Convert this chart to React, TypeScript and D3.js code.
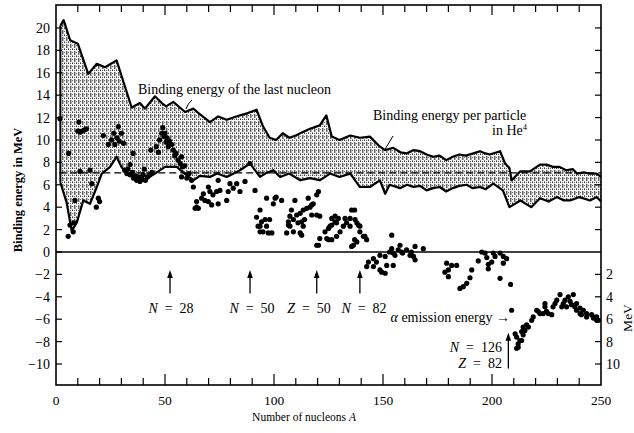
import React from "react";
import * as d3 from "d3";

// Upper envelope: binding energy of the last nucleon (max), [A, MeV]
const upperEnvelope: [number, number][] = [
  [2, 20.2], [3.5, 20.7], [6.5, 18.9], [10, 18.6], [14.8, 15.9], [18.7, 16.8], [22.5, 16.5],
  [27.8, 17.1], [34.7, 12.9], [38.5, 13.3], [40.8, 12.8], [45.4, 13.9], [48.5, 13.3], [50.5, 13.0],
  [53.8, 13.4], [59.2, 12.5], [63, 12.8], [66, 12.3], [70.6, 11.6], [74.4, 12.1], [78.3, 11.8],
  [84.4, 12.2], [88, 12.4], [92, 12.7], [95, 11.2], [98, 10.2], [101, 10.0], [104, 10.6], [107, 10.2],
  [110, 10.4], [113, 10.7], [116.5, 11.0], [121, 11.3], [124, 12.2], [126.5, 10.3], [130, 10.0],
  [135, 10.4], [139.4, 10.2], [144, 10.3], [148.6, 9.4], [151, 9.1], [154.7, 9.3], [158, 8.9],
  [160.8, 8.8], [164, 9.1], [167, 9.0], [170, 8.7], [173, 8.5], [176, 8.6], [179, 8.2], [182, 8.5],
  [185, 8.7], [188, 8.6], [191.4, 8.8], [194.5, 9.0], [197, 8.8], [199, 8.7], [203.7, 9.0],
  [206, 7.9], [208, 7.5], [209, 6.4], [213, 7.2], [217.4, 7.2], [222, 7.8], [225, 7.8], [228, 7.6],
  [231, 7.6], [234, 7.3], [237, 7.4], [239, 7.0], [242, 7.1], [245, 7.0], [248, 7.0], [250, 6.7],
];

// Lower envelope: binding energy of the last nucleon (min), [A, MeV]
const lowerEnvelope: [number, number][] = [
  [2, 6.2], [4.9, 4.4], [7.2, 1.9], [9.5, 2.6], [12.5, 4.6], [15.6, 4.3], [18.7, 5.8], [21, 7.0],
  [24.8, 7.6], [27.8, 8.5], [30, 7.6], [32.4, 7.0], [36, 6.8], [39, 6.3], [42, 6.6], [45.4, 7.0],
  [50, 7.6], [55.4, 7.6], [59, 7.0], [63, 6.4], [66, 6.8], [70.6, 6.7], [74, 7.0], [78.3, 6.7],
  [84.4, 7.3], [89, 7.9], [93.6, 6.7], [96, 7.0], [99.7, 7.3], [102.8, 6.7], [107, 7.0], [112, 6.4],
  [116.5, 6.6], [121, 6.4], [125.7, 7.0], [130, 6.7], [135, 7.0], [139.4, 5.8], [144, 5.8],
  [148.6, 6.4], [151, 5.2], [153, 6.0], [157.8, 5.7], [161, 6.0], [164, 5.8], [167, 5.9], [170, 5.5],
  [173, 5.7], [176, 5.8], [179, 5.4], [182, 5.7], [185, 5.9], [188.4, 6.0], [191, 5.7], [194.5, 5.8],
  [197, 5.6], [200.6, 6.1], [205, 5.5], [208, 4.0], [213, 4.6], [218, 4.0], [222, 4.8], [226, 4.5],
  [229.7, 4.9], [233, 4.6], [235.8, 4.6], [240, 4.9], [245, 4.6], [248, 4.9], [250, 4.5],
];

// Scatter points: alpha binding / emission energy, [A, MeV]
const alphaPoints: [number, number][] = [
  [1.8, 11.9], [5.8, 8.8], [10.5, 11.6], [10, 10.8], [11, 10.7], [12, 10.8], [13, 10.9], [14, 11.0],
  [11, 7.2], [15.6, 7.3], [16.4, 6.1], [19.4, 4.8], [18.5, 4.0], [20, 4.5], [6.4, 2.4], [5.6, 1.4],
  [7.9, 1.8], [8.2, 2.6], [8.7, 4.6],
  [21.7, 10.4], [25.5, 10.0], [26.5, 10.6], [27, 9.6], [28, 10.2], [28.6, 11.2], [29, 9.9],
  [30, 10.6], [31, 9.7], [24, 9.6],
  [31.5, 7.3], [32.5, 7.0], [33, 7.4], [34, 6.9], [35, 7.1], [35.5, 6.6], [36.5, 6.8], [37, 6.4],
  [38, 6.7], [38.5, 6.3], [39.5, 6.5], [40, 6.9], [41, 6.4], [42, 6.7], [43, 6.9], [44, 7.1],
  [35.4, 8.8], [43.5, 9.1], [34, 7.8], [40.5, 7.4],
  [46, 9.4], [47, 8.9], [47.5, 10.0], [48.5, 10.6], [49, 11.1], [49.5, 10.3], [50, 10.6], [50.5, 9.8],
  [51, 10.2], [51.5, 9.4], [52, 9.9], [53, 9.6], [53.8, 9.1], [54.5, 8.6], [55, 8.8], [56, 8.2],
  [57, 7.9], [57.6, 8.5], [58, 7.6], [59, 7.7], [57.6, 6.7], [60, 6.6], [61, 7.0], [62.2, 6.4],
  [63, 5.8], [64.5, 4.5], [65.3, 3.9],
  [66.8, 4.8], [67.6, 5.2], [68.3, 4.6], [69.9, 5.8], [69.9, 4.5], [70.6, 5.4], [71.4, 4.2],
  [72, 5.1], [73.7, 5.4], [74.4, 6.4], [74.4, 4.3], [75.2, 5.5], [78.3, 4.6], [79, 5.4], [79.8, 6.1],
  [81.3, 5.7], [82.9, 6.1], [84.4, 5.4], [86.7, 6.3], [89, 7.9], [91.3, 5.5], [64.5, 4.0], [63.8, 3.9],
  [93.6, 3.75], [92, 3.1], [94.3, 2.7], [93.6, 2.3], [95.9, 2.9], [96.6, 2.3], [95, 1.8], [97.4, 1.7],
  [98, 2.9], [99, 1.7], [96.6, 4.8], [99.7, 4.3], [100.5, 4.8], [101, 4.9], [103.5, 4.6], [92.7, 2.3],
  [93.6, 1.8],
  [105.8, 1.7], [106.6, 2.4], [106.6, 2.7], [107.3, 3.2], [107.3, 2.3], [108, 3.75], [108.9, 2.9],
  [108.9, 1.8], [109.6, 4.6], [110.4, 3.3], [111, 2.6], [112, 3.45], [112, 1.7], [112.7, 2.7],
  [112.7, 1.5], [113.4, 3.75], [113.4, 2.3], [114, 2.9], [115, 3.9], [115.7, 4.8], [116.5, 4.0],
  [117.3, 3.3], [117.3, 4.2], [118, 4.3], [119.6, 3.3], [119.6, 5.1], [120.4, 5.4], [121, 3.2],
  [119.6, 0.6], [120.4, 0.6], [121, 1.2], [123.4, 1.8], [124.2, 1.2], [125, 2.1], [125, 1.1],
  [125.7, 2.3], [126.5, 2.4], [126.5, 1.1], [126.5, 3.0], [128, 2.7], [128, 3.2], [128.7, 1.4],
  [128.7, 2.6], [129.5, 3.0], [130.3, 1.8], [131.8, 2.3], [132.6, 3.0], [133.3, 2.6], [134.9, 3.0],
  [134.9, 2.3], [135.6, 3.75], [135.6, 0.5], [136.4, 0.6], [137, 3.75], [137.2, 2.9], [137, 1.1],
  [138, 0.9], [138, 2.6], [138.7, 2.4], [139.4, 1.8], [139.4, 2.3], [141, 1.4], [141.7, 1.4], [142.5, 1.1],
  [142.5, -1.3], [143.3, -0.9], [145.6, -0.6], [145.6, -1.3], [147, -0.9], [148.6, -0.3], [148.6, -1.6],
  [149.4, -1.8], [151, -1.9], [151, -0.4], [151.7, -1.2], [153, 0], [154, 1.5], [154, 0.3],
  [154.7, -0.1], [154.7, -1.2], [155.5, -0.3], [157, 0.2], [157.8, 0.6], [158.6, 0], [159, -0.1],
  [160.8, 0.2], [162.4, -0.3], [163, 0], [164, -0.4], [164.7, 0.5], [164.7, -0.7], [168.5, 0.3],
  [178.4, -1.8], [179.2, -1.0], [180, -1.6], [180, -2.2], [181.5, -1.2], [183.8, -1.2], [185.3, -3.25],
  [186.8, -3.1], [188.4, -2.8], [189.9, -2.3], [190.7, -1.6], [193.7, -0.8], [195.3, 0], [196.8, -0.1],
  [197.6, -0.5], [198.3, -1.1], [198.3, -1.5], [199.9, -0.9], [200.6, -0.1], [201.4, -0.4],
  [203.7, -0.1], [205.2, -0.4], [206.7, -0.6], [205.2, -1.0], [203.7, -2.35], [208.5, -2.9], [209, -5.2],
  [210.6, -7.3], [211.3, -7.6], [211.3, -8.6], [212, -8.5], [212, -8.2], [212.8, -7.9], [213.6, -7.1],
  [213.6, -7.9], [214.3, -6.7], [214.3, -7.4], [215.1, -7.0], [215.9, -6.5], [216.7, -6.7],
  [218.2, -6.1], [218.9, -5.8], [220.5, -5.2], [221.2, -5.3], [222, -5.5], [223.5, -5.5], [224.3, -4.9],
  [224.3, -4.6], [225, -5.3], [225.8, -5.5], [227.4, -5.6], [228, -4.9], [228.9, -4.6], [229.7, -4.3],
  [231.2, -3.8], [232, -4.9], [232.7, -4.6], [233.5, -4.3], [234.2, -4.9], [235, -4.0], [235.8, -4.4],
  [236.5, -4.7], [237.3, -3.8], [238, -4.9], [238.8, -5.2], [238.8, -4.6], [240.4, -5.0], [240.4, -5.5],
  [241, -5.6], [241.9, -5.2], [243.4, -5.5], [243.4, -5.8], [245.7, -5.6], [246.5, -5.9], [246.5, -5.8],
  [248, -5.8], [248, -6.1], [248.8, -6.1],
];

// Magic-number arrows
const magicA = [52.3, 89, 119.6, 139.4];
const magicLetter = ["N", "N", "Z", "N"];
const magicNumber = ["28", "50", "50", "82"];
const magicLabelX = [171, 252, 309, 364];

const xTicks = d3.range(0, 251, 10);
const xLabels = [0, 50, 100, 150, 200, 250];
const yTicks = d3.range(-10, 21, 2);
const yLabels = [20, 18, 16, 14, 12, 10, 8, 6, 4, 2, 0, -2, -4, -6, -8, -10];
const rightTicks = d3.range(-10, 21, 2);
const rightLabels = [2, 4, 6, 8, 10];
const heBindingPerParticle = 7.07;

const SP = "\u2002";

export default function App() {
  const W = 634, H = 433;
  const x = d3.scaleLinear().domain([0, 250]).range([56, 601]);
  const y = d3.scaleLinear().domain([-11.875, 22.05]).range([385, 5]);
  const x0 = x(0), x1 = x(250), yTop = y(22.05), yBot = y(-11.875);

  const line = d3.line<[number, number]>().x(d => x(d[0])).y(d => y(d[1]));
  const bandPts = [...upperEnvelope, ...lowerEnvelope.slice().reverse()];
  const bandPath = line(bandPts) + "Z";
  const upPath = line(upperEnvelope)!;
  const lowPath = line(lowerEnvelope)!;

  const font = "'Liberation Serif', 'DejaVu Serif', serif";

  const arrow = (ax: number, yHead: number, yTail: number, key: string) => (
    <g key={key}>
      <line x1={ax} x2={ax} y1={yHead + 5} y2={yTail} stroke="#000" strokeWidth={1.3} />
      <path d={`M${ax},${yHead} L${ax - 2.8},${yHead + 8} L${ax + 2.8},${yHead + 8} Z`} fill="#000" />
    </g>
  );

  return (
    <svg width={W} height={H} style={{ position: "absolute", left: 0, top: 0, background: "#fff" }} fontFamily={font}>
      <defs>
        <pattern id="stip" width="4" height="7" patternUnits="userSpaceOnUse">
          <rect width="4" height="7" fill="#f4f4f4" />
          <rect x="0" y="0" width="1" height="1" fill="#333" />
          <rect x="2" y="0" width="1" height="1" fill="#666" />
          <rect x="0" y="3" width="1" height="1" fill="#666" />
          <rect x="2.3" y="2" width="1" height="4" fill="#222" />
          <rect x="0" y="6" width="1" height="1" fill="#888" />
        </pattern>
      </defs>
      <rect width={W} height={H} fill="#fff" />

      {/* band */}
      <path d={bandPath} fill="url(#stip)" stroke="none" />
      <path d={upPath} fill="none" stroke="#000" strokeWidth={2.2} strokeLinejoin="round" />
      <path d={lowPath} fill="none" stroke="#000" strokeWidth={2.2} strokeLinejoin="round" />
      <line x1={x(2)} x2={x(2)} y1={y(20.2)} y2={y(6.2)} stroke="#000" strokeWidth={2} />

      {/* He4 dashed line */}
      <line x1={x(1.5)} x2={x1} y1={y(heBindingPerParticle)} y2={y(heBindingPerParticle)}
        stroke="#000" strokeWidth={1.2} strokeDasharray="7,4" />

      {/* zero line */}
      <line x1={x0} x2={x1} y1={y(0)} y2={y(0)} stroke="#000" strokeWidth={1.5} />

      {/* points */}
      {alphaPoints.map((p, i) => (
        <circle key={i} cx={x(p[0])} cy={y(p[1])} r={2.6} fill="#000" />
      ))}

      {/* frame */}
      <rect x={x0} y={yTop} width={x1 - x0} height={yBot - yTop} fill="none" stroke="#000" strokeWidth={1.6} />

      {/* top and bottom ticks */}
      {xTicks.filter(t => t > 0 && t < 250).map(t => {
        const major = t % 50 === 0;
        return (
          <g key={"xt" + t}>
            <line x1={x(t)} x2={x(t)} y1={yBot} y2={yBot - (major ? 11 : 7)} stroke="#000" strokeWidth={1.2} />
            <line x1={x(t)} x2={x(t)} y1={yTop} y2={yTop + (major ? 10 : 7)} stroke="#000" strokeWidth={1.2} />
          </g>
        );
      })}
      {xLabels.map(t => (
        <text key={"xl" + t} x={x(t)} y={405} fontSize={13.5} textAnchor="middle">{t}</text>
      ))}

      {/* left ticks */}
      {yTicks.map(t => (
        <line key={"yt" + t} x1={x0} x2={x0 + 6} y1={y(t)} y2={y(t)} stroke="#000" strokeWidth={1.2} />
      ))}
      {yLabels.map(t => (
        <text key={"yl" + t} x={50} y={y(t) + 5} fontSize={14} textAnchor="end">
          {t < 0 ? "\u2212" + Math.abs(t) : String(t)}
        </text>
      ))}

      {/* right ticks */}
      {rightTicks.filter(t => t !== 0).map(t => (
        <line key={"rt" + t} x1={x1} x2={x1 - 6} y1={y(t)} y2={y(t)} stroke="#000" strokeWidth={1.2} />
      ))}
      {rightLabels.map(t => (
        <text key={"rl" + t} x={606} y={y(-t) + 5} fontSize={14} textAnchor="start">{t}</text>
      ))}

      {/* axis titles */}
      <text transform="translate(22,190) rotate(-90)" fontSize={12.5} fontWeight="bold" textAnchor="middle">
        Binding energy in MeV
      </text>
      <text transform="translate(632,318) rotate(-90)" fontSize={13.5} textAnchor="middle">MeV</text>
      <text x={304} y={421} fontSize={11.5} textAnchor="middle">
        Number of nucleons <tspan fontStyle="italic">A</tspan>
      </text>

      {/* annotations */}
      <text x={138} y={94} fontSize={14}>Binding energy of the last nucleon</text>
      <path d="M186,109 Q188,103 192,100" fill="none" stroke="#000" strokeWidth={1} />
      <text x={373} y={120} fontSize={14}>Binding energy per particle</text>
      <text x={527} y={135} fontSize={14} textAnchor="end">
        in He<tspan fontSize={8.5} dy={-5}>4</tspan>
      </text>
      <line x1={393} y1={136} x2={384} y2={151} stroke="#000" strokeWidth={1} />

      {magicA.map((a, i) => arrow(x(a), y(-1.6), y(-3.7), "m" + i))}
      {magicA.map((a, i) => (
        <text key={"ml" + i} x={magicLabelX[i]} y={313} fontSize={14} textAnchor="middle">
          <tspan fontStyle="italic">{magicLetter[i]}</tspan>{SP + "=" + SP + magicNumber[i]}
        </text>
      ))}

      <text x={510} y={322} fontSize={14} textAnchor="end">
        <tspan fontStyle="italic">α</tspan> emission energy →
      </text>
      {arrow(x(207.5), y(-7.2), y(-10.4), "n126")}
      <text x={502} y={352} fontSize={14} textAnchor="end">
        <tspan fontStyle="italic">N</tspan>{SP + "=" + SP + "126"}
      </text>
      <text x={502} y={368} fontSize={14} textAnchor="end">
        <tspan fontStyle="italic">Z</tspan>{SP + "=" + SP + "82"}
      </text>
    </svg>
  );
}
